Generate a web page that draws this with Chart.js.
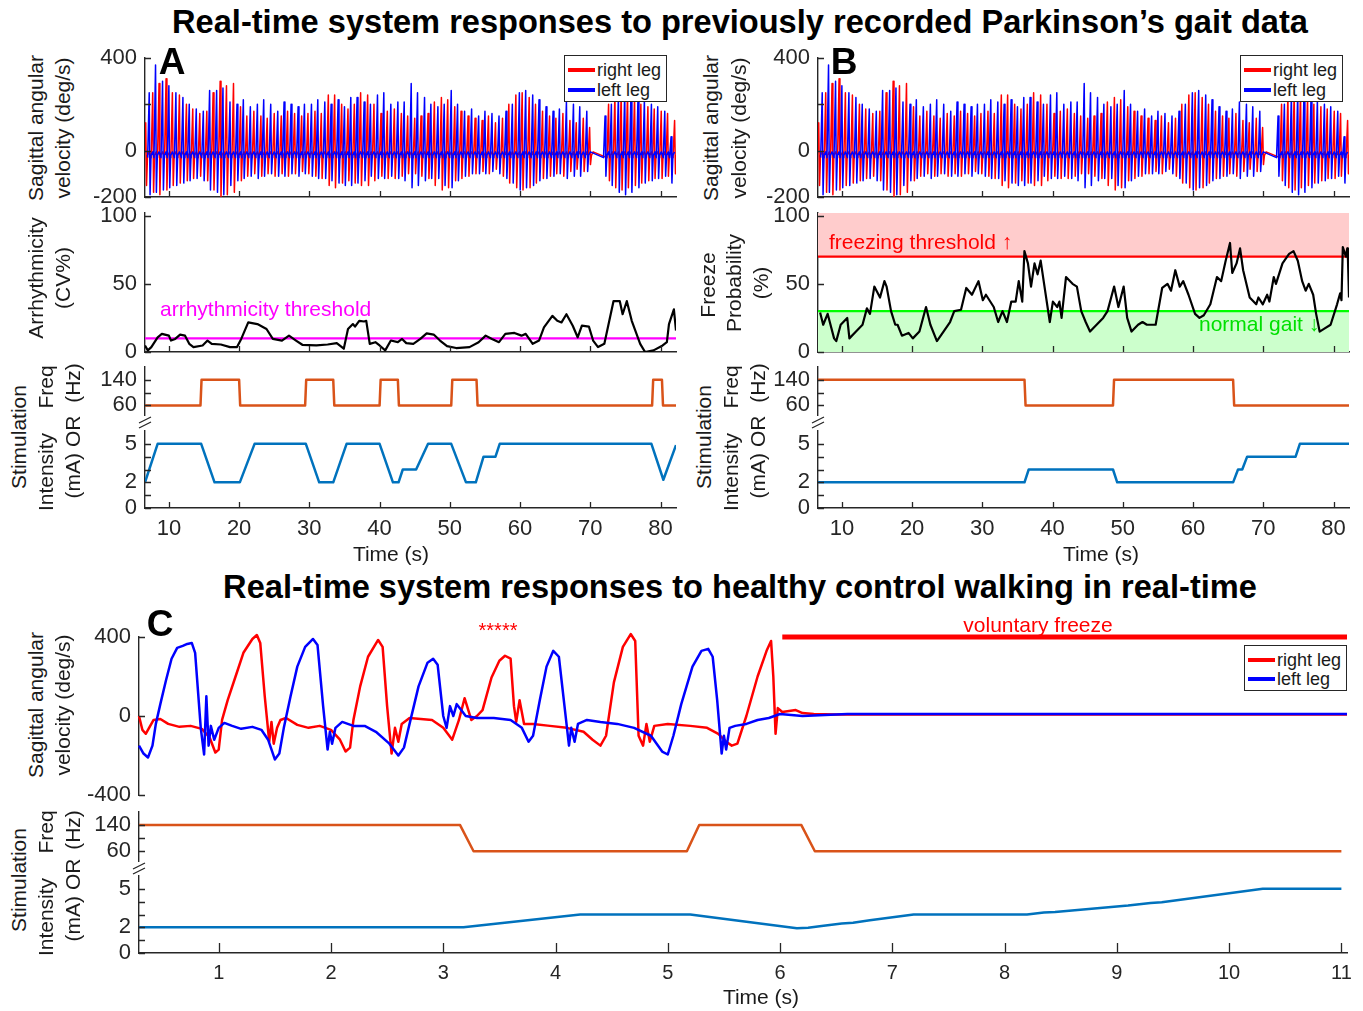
<!DOCTYPE html>
<html><head><meta charset="utf-8">
<script src="https://cdn.jsdelivr.net/npm/chart.js@4.4.1/dist/chart.umd.min.js"></script>
<style>
html,body{margin:0;padding:0;background:#fff;}
body{width:1363px;height:1011px;position:relative;overflow:hidden;font-family:"Liberation Sans",Arial,Helvetica,sans-serif;color:#1a1a1a;}
canvas{position:absolute;z-index:1;}
.tx{position:absolute;white-space:nowrap;line-height:1;transform:translate(-50%,-50%);font-size:21px;z-index:3;}
.rv{transform:translate(-50%,-50%) rotate(-90deg);}
.lt{position:absolute;white-space:nowrap;line-height:1;transform:translate(0,-50%);font-size:21px;z-index:3;}
.ttl{font-weight:bold;font-size:32.6px;color:#000;}
.pl{font-weight:bold;font-size:37px;color:#000;}
.leg{position:absolute;border:1px solid #262626;background:#fff;font-size:18px;line-height:1;box-sizing:border-box;z-index:4;}
.leg .row{position:absolute;left:3px;white-space:nowrap;display:flex;align-items:center;height:18px;}
.sw{display:inline-block;width:27px;height:4px;margin-right:2px;}
</style></head><body>

<div class="tx ttl" style="left:740px;top:22px">Real-time system responses to previously recorded Parkinson’s gait data</div>
<div class="tx ttl" style="left:740px;top:587px">Real-time system responses to healthy control walking in real-time</div>

<div class="tx pl" style="left:172px;top:61px">A</div>
<div class="tx pl" style="left:844px;top:61px">B</div>
<div class="tx pl" style="left:160px;top:623px">C</div>

<!-- Panel A labels -->
<div class="tx rv" style="left:35px;top:128px">Sagittal angular</div>
<div class="tx rv" style="left:62px;top:128px">velocity (deg/s)</div>
<div class="tx rv" style="left:35px;top:278px">Arrhythmicity</div>
<div class="tx rv" style="left:62px;top:278px">(CV%)</div>
<div class="tx rv" style="left:18px;top:437px">Stimulation</div>
<div class="tx rv" style="left:45px;top:387px">Freq</div>
<div class="tx rv" style="left:72px;top:383px">(Hz)</div>
<div class="tx rv" style="left:45px;top:472px">Intensity</div>
<div class="tx rv" style="left:72px;top:457px">(mA) OR</div>
<div class="tx" style="left:391px;top:553px">Time (s)</div>
<div class="lt" style="left:160px;top:308px;color:#ff00ff">arrhythmicity threshold</div>

<!-- Panel B labels -->
<div class="tx rv" style="left:710px;top:128px">Sagittal angular</div>
<div class="tx rv" style="left:738px;top:128px">velocity (deg/s)</div>
<div class="tx rv" style="left:707px;top:285px">Freeze</div>
<div class="tx rv" style="left:733px;top:283px">Probability</div>
<div class="tx rv" style="left:760px;top:283px">(%)</div>
<div class="tx rv" style="left:703px;top:437px">Stimulation</div>
<div class="tx rv" style="left:730px;top:387px">Freq</div>
<div class="tx rv" style="left:757px;top:383px">(Hz)</div>
<div class="tx rv" style="left:730px;top:472px">Intensity</div>
<div class="tx rv" style="left:757px;top:457px">(mA) OR</div>
<div class="tx" style="left:1101px;top:553px">Time (s)</div>
<div class="lt" style="left:829px;top:241px;color:#ff0000">freezing threshold ↑</div>
<div class="lt" style="left:1199px;top:323px;color:#00e000">normal gait ↓</div>

<!-- Panel C labels -->
<div class="tx rv" style="left:35px;top:705px">Sagittal angular</div>
<div class="tx rv" style="left:62px;top:705px">velocity (deg/s)</div>
<div class="tx rv" style="left:18px;top:880px">Stimulation</div>
<div class="tx rv" style="left:45px;top:832px">Freq</div>
<div class="tx rv" style="left:72px;top:830px">(Hz)</div>
<div class="tx rv" style="left:45px;top:917px">Intensity</div>
<div class="tx rv" style="left:72px;top:900px">(mA) OR</div>
<div class="tx" style="left:761px;top:996px">Time (s)</div>
<div class="tx" style="left:1038px;top:624px;color:#ff0000">voluntary freeze</div>
<div class="tx" style="left:498px;top:630px;color:#ff0000;font-size:20px">*****</div>

<!-- legends -->
<div class="leg" style="left:564px;top:55px;width:103px;height:47px">
  <div class="row" style="top:5px"><span class="sw" style="background:#ff0000"></span>right leg</div>
  <div class="row" style="top:25px"><span class="sw" style="background:#0000ff"></span>left leg</div>
</div>
<div class="leg" style="left:1240px;top:55px;width:103px;height:47px">
  <div class="row" style="top:5px"><span class="sw" style="background:#ff0000"></span>right leg</div>
  <div class="row" style="top:25px"><span class="sw" style="background:#0000ff"></span>left leg</div>
</div>
<div class="leg" style="left:1244px;top:645px;width:103px;height:46px">
  <div class="row" style="top:5px"><span class="sw" style="background:#ff0000"></span>right leg</div>
  <div class="row" style="top:24px"><span class="sw" style="background:#0000ff"></span>left leg</div>
</div>

<script>
// ================= DATA =================
// Panels A & B (same recorded gait): time axis
const xRangeAB = [6.6, 82.2];
const xTicksAB = [10, 20, 30, 40, 50, 60, 70, 80];

// Sagittal angular velocity, stride peaks (s, deg/s) — right leg
const rightT = [6.7,7.7,8.6,9.6,10.5,11.5,12.5,13.4,14.4,15.4,16.3,17.3,18.2,19.2,20.2,21.1,22.1,23.1,24.0,25.0,26.0,26.9,27.9,28.9,29.8,30.8,31.7,32.7,33.6,34.6,35.5,36.4,37.3,38.3,39.2,40.2,41.1,42.1,43.1,44.0,45.0,45.9,46.9,47.8,48.8,49.7,50.7,51.6,52.6,53.6,54.6,55.5,56.5,57.5,58.4,59.4,60.3,61.3,62.2,63.2,64.2,65.1,66.1,67.1,68.0,69.0,69.9,72.6,73.5,74.4,75.3,76.3,77.2,78.2,79.1,80.1,81.0,82.0];
const rightPeak = [120,250,290,310,250,240,200,180,160,170,250,300,280,290,190,150,170,150,140,160,150,170,160,150,160,170,160,240,240,200,180,200,250,240,200,160,170,180,160,150,140,150,160,210,230,220,190,170,150,140,130,150,120,140,200,240,250,230,200,170,150,140,160,130,120,140,100,200,240,250,250,230,200,190,180,170,160,130];
const rightTrough = [-150,-180,-190,-170,-150,-140,-130,-120,-110,-130,-170,-200,-190,-180,-130,-110,-100,-110,-100,-110,-100,-110,-100,-90,-100,-110,-120,-150,-160,-140,-130,-140,-150,-150,-130,-110,-120,-120,-110,-100,-100,-110,-120,-150,-170,-160,-130,-120,-110,-100,-90,-100,-80,-110,-140,-160,-170,-160,-140,-120,-110,-100,-110,-90,-80,-90,-60,-130,-160,-170,-160,-150,-140,-130,-120,-120,-110,-100];
// left leg
const leftT = [7.2,8.1,9.1,10.0,11.0,12.0,12.9,13.9,14.9,15.8,16.8,17.7,18.7,19.7,20.6,21.6,22.6,23.5,24.5,25.5,26.4,27.4,28.4,29.3,30.3,31.2,32.2,33.1,34.1,35.0,35.9,36.8,37.8,38.7,39.7,40.6,41.6,42.6,43.5,44.5,45.4,46.4,47.3,48.3,49.2,50.2,51.1,52.1,53.1,54.1,55.0,56.0,57.0,58.0,58.9,59.9,60.8,61.8,62.7,63.7,64.7,65.6,66.6,67.6,68.5,69.5,72.1,73.0,74.0,74.9,75.8,76.8,77.7,78.7,79.6,80.6,81.5];
const leftPeak = [250,370,300,280,250,230,200,180,170,260,260,270,210,200,220,190,200,220,200,170,210,200,190,200,200,220,210,200,220,190,230,230,210,200,240,250,200,210,210,290,250,230,200,190,200,260,200,170,180,150,170,160,150,170,200,250,260,240,220,190,170,180,210,200,190,170,150,200,240,250,260,240,220,200,190,170,60];
const leftTrough = [-190,-180,-170,-160,-150,-140,-130,-120,-130,-170,-180,-190,-150,-130,-120,-110,-120,-110,-100,-110,-110,-100,-110,-100,-110,-120,-120,-130,-140,-150,-150,-140,-130,-110,-120,-120,-110,-120,-130,-160,-150,-130,-120,-120,-150,-160,-130,-110,-100,-100,-100,-90,-100,-120,-140,-170,-160,-150,-130,-120,-110,-100,-120,-110,-110,-90,-110,-150,-180,-190,-180,-160,-140,-130,-120,-110,-140];
const velTicksAB = [-200, 0, 400], velMinorAB = [200];

// Panel A: arrhythmicity (CV%)
const arrT = [6.6,7.0,7.5,8.4,9.0,10.0,10.3,10.9,11.6,12.3,12.9,13.5,14.8,15.5,16.1,17.4,18.7,19.7,20.3,21.3,22.6,23.9,24.8,26.1,27.1,28.1,29.0,31.0,32.6,33.9,34.9,35.5,36.2,36.5,37.1,37.8,38.1,38.6,39.4,40.0,40.8,41.6,42.6,43.2,43.8,44.8,45.8,46.7,47.7,48.6,49.6,50.9,52.8,54.1,55.1,56.0,57.0,57.9,59.2,60.2,60.8,61.8,62.7,63.4,64.6,65.3,65.9,66.6,67.5,68.2,68.8,69.8,70.4,71.1,72.0,73.3,74.2,74.6,75.2,75.9,77.1,77.8,79.0,80.3,80.9,81.2,81.9,82.2];
const arrV = [4.8,1.2,3.6,10.8,13.3,12,8.4,9.6,12.8,12,6,3.6,4.8,8.4,6,5.5,3.6,3.6,9.6,21.7,20.5,16.9,9.6,8.4,12,8.4,5.3,4.8,5.5,6.5,2.4,16.9,20.5,18.6,22.9,22.4,22.9,6,7.2,4.8,1.2,8.4,7.2,9.6,6.5,6,9.6,13.7,12.8,8.4,4.3,2.9,3.6,7.2,12,9.6,7.2,13.3,14,12,13.3,6,8.4,18,26.5,22.9,21.7,27.7,19.3,10.8,19.3,18.6,8.4,3.6,6,37.3,37.3,27.7,37.3,22.9,6,0,1.2,4.8,7.2,20.5,31.3,15.7];
const arrThreshold = 10;
const pctTicks = [0, 50, 100];

// Panel B: freeze probability (%)
const frT = [6.9,7.34,7.97,8.89,9.2,9.83,10.76,11.07,12.01,12.94,13.56,14.0,14.62,15.43,16.06,16.37,17.0,17.6,17.93,18.55,19.49,20.1,21.04,21.98,22.6,23.53,24.47,25.4,26.0,26.96,27.71,28.52,29.45,30.07,30.51,31.62,32.25,32.87,33.5,34.12,34.74,35.18,35.68,35.99,36.49,36.93,37.43,37.86,38.3,38.79,39.6,40.04,40.66,40.97,41.28,41.91,42.84,43.46,44.08,44.71,45.33,46.26,47.2,47.82,48.76,49.37,50.12,50.62,51.24,52.17,52.8,53.42,54.67,55.6,56.36,56.86,57.47,58.1,58.6,59.35,60.28,60.91,61.53,62.46,63.4,64.0,64.64,65.26,65.58,66.19,66.69,67.13,68.06,68.99,69.3,69.93,70.55,70.87,71.49,71.8,72.73,73.67,74.3,74.91,75.53,76.03,76.47,77.1,77.52,78.02,78.64,79.58,80.5,80.94,81.13,81.32,81.76,81.95,82.05,82.2];
const frV = [29,20,28,10,8,20,25,10,15,20,32,28,48,40,52,48,30,20,20,12,14,10,15,33,20,8,15,22,30,31,47,42,52,38,42,33,22,30,22,37,37,52,37,74,65,48,65,57,67,50,22,37,33,37,25,55,50,48,30,22,15,20,25,30,48,33,48,25,15,20,22,20,20,47,50,45,60,48,52,42,28,25,27,35,55,52,67,80,58,65,76,60,40,35,40,35,42,37,55,50,65,72,74,67,52,45,50,42,28,15,17,20,35,43,38,77,70,76,68,40];
const freezeThreshold = 70, normalThreshold = 30;

// Panels A & B: stimulation frequency (Hz) and intensity (mA)
const freqATime = [6.6,14.5,14.65,20.0,20.15,29.4,29.55,33.4,33.55,40.0,40.15,42.6,42.75,50.2,50.35,53.8,53.95,78.8,78.95,80.2,80.35,82.2];
const freqAVal  = [60,60,140,140,60,60,140,140,60,60,140,140,60,60,140,140,60,60,140,140,60,60];
const intATime = [6.6,8.4,14.6,16.5,20.1,22.2,29.5,31.4,33.4,35.3,40.0,41.9,42.7,43.3,45.2,46.9,50.2,52.3,53.7,54.8,56.5,57.1,78.7,80.4,82.2];
const intAVal  = [2,5,5,2,2,5,5,2,2,5,5,2,2,3,3,5,5,2,2,4,4,5,5,2.2,4.9];
const freqBTime = [6.6,36.0,36.15,48.6,48.75,65.7,65.85,82.2];
const freqBVal  = [140,140,60,60,140,140,60,60];
const intBTime = [6.6,36.0,36.6,48.6,49.2,65.7,66.4,67.0,67.7,74.6,75.2,82.2];
const intBVal  = [2,2,3,3,2,2,3,3,4,4,5,5];
const freqTicks = [60, 140], freqMinor = [100];
const intTicks = [0, 2, 5], intMinor = [1, 3, 4];

// Panel C: healthy control
const xRangeC = [0.29, 11.05];
const xTicksC = [1,2,3,4,5,6,7,8,9,10,11];
const rightCT = [0.29,0.32,0.35,0.38,0.42,0.48,0.55,0.65,0.75,0.85,0.92,0.97,1.00,1.03,1.08,1.15,1.22,1.30,1.34,1.37,1.41,1.45,1.47,1.49,1.52,1.55,1.60,1.70,1.80,1.90,2.00,2.08,2.13,2.17,2.20,2.26,2.33,2.42,2.46,2.50,2.54,2.57,2.60,2.63,2.70,2.80,2.90,3.00,3.08,3.14,3.19,3.25,3.30,3.35,3.43,3.50,3.55,3.60,3.63,3.65,3.68,3.72,3.80,3.95,4.10,4.25,4.33,4.40,4.45,4.52,4.60,4.67,4.71,4.74,4.78,4.81,4.84,4.88,5.00,5.20,5.35,5.45,5.52,5.57,5.62,5.70,5.80,5.88,5.92,5.94,5.96,5.98,6.02,6.08,6.14,6.20,6.30,6.50,7.00,8.00,9.00,10.00,11.05];
const rightCV = [0,-70,-90,-60,-20,-15,-40,-55,-50,-65,-110,-185,-170,-20,80,200,320,390,410,370,100,-130,-30,-140,-60,-20,-10,-45,-60,-50,-70,-120,-180,-160,-20,150,300,385,350,50,-190,-60,-130,-40,-10,-15,-20,-60,-120,-20,90,-20,0,30,195,280,305,290,50,-30,80,-40,-40,-50,-60,-80,-120,-150,-100,170,350,415,380,-100,-150,-40,-130,-50,-40,-50,-60,-90,-130,-150,-140,0,200,330,380,200,-90,40,20,25,30,15,10,8,8,8,8,8,8];
const leftCT = [0.29,0.33,0.37,0.41,0.44,0.48,0.53,0.58,0.63,0.68,0.72,0.76,0.79,0.84,0.87,0.89,0.91,0.93,0.96,1.00,1.05,1.12,1.20,1.30,1.38,1.44,1.50,1.54,1.58,1.64,1.70,1.77,1.84,1.88,1.93,1.97,1.99,2.01,2.04,2.10,2.20,2.30,2.40,2.52,2.60,2.65,2.70,2.78,2.86,2.91,2.95,3.00,3.03,3.06,3.09,3.12,3.16,3.20,3.30,3.45,3.60,3.70,3.76,3.80,3.86,3.92,3.98,4.03,4.08,4.12,4.14,4.17,4.20,4.28,4.40,4.55,4.70,4.85,4.95,5.00,5.05,5.12,5.22,5.30,5.36,5.40,5.44,5.48,5.50,5.52,5.55,5.60,5.70,5.80,5.90,6.00,6.10,6.20,6.40,6.60,7.00,8.00,9.00,10.00,11.05];
const leftCV = [-150,-190,-210,-150,-40,60,180,290,345,355,365,370,320,-60,-195,100,-150,-50,-120,-60,-35,-50,-65,-55,-70,-120,-220,-190,-60,100,250,350,390,360,50,-170,-80,-140,-60,-30,-50,-50,-80,-140,-200,-160,-40,150,270,290,260,0,-60,50,0,60,30,0,-10,-10,-20,-60,-130,-100,80,250,330,300,50,-150,-60,-130,-40,-20,-30,-40,-60,-100,-180,-195,-100,60,250,330,340,300,80,-190,-100,-170,-60,-50,-40,-20,-10,10,5,0,5,10,10,10,10,10,10];
const velTicksC = [-400, 0, 400];
const freezeSpan = [6.02, 11.05], freezeLevel = 400;
const freqCTime = [0.29,3.15,3.27,5.17,5.28,6.19,6.31,11.0];
const freqCVal  = [140,140,60,60,140,140,60,60];
const intCTime = [0.29,3.18,4.22,5.2,6.15,6.25,6.37,6.55,6.65,6.8,7.19,8.2,8.35,8.45,9.1,9.3,9.4,10.3,11.0];
const intCVal  = [2,2,3,3,1.92,1.97,2.1,2.3,2.35,2.55,3,3,3.15,3.2,3.7,3.9,3.95,5,5];

// ================= RENDERING =================
Chart.defaults.font.family = '"Liberation Sans", Arial, Helvetica, sans-serif';
Chart.defaults.font.size = 22;
Chart.defaults.color = '#262626';

const AX = '#262626';
const pts = (ts, vs) => ts.map((t, i) => ({x: t, y: vs[i]}));
function gait(ts, peaks, troughs) {
  const out = [];
  ts.forEach((t, i) => {
    out.push({x: t - 0.22, y: -30}, {x: t, y: peaks[i]}, {x: t + 0.12, y: troughs[i]}, {x: t + 0.26, y: -20}, {x: t + 0.5, y: -5});
  });
  return out;
}

const inTicks = {
  id: 'inTicks',
  afterDraw(chart, args, o) {
    const {ctx, chartArea: a, scales: {x, y}} = chart;
    ctx.save();
    ctx.strokeStyle = AX; ctx.lineWidth = 1.3;
    ctx.beginPath();
    (o.y || []).forEach(v => { const p = Math.round(y.getPixelForValue(v)) + 0.5; ctx.moveTo(a.left, p); ctx.lineTo(a.left + (o.yl || 6), p); });
    (o.x || []).forEach(v => { const p = Math.round(x.getPixelForValue(v)) + 0.5; ctx.moveTo(p, a.bottom); ctx.lineTo(p, a.bottom - (o.xl || 6)); });
    ctx.stroke();
    if (o.brk) {
      const bx = a.left, by = a.bottom + o.brk;
      ctx.beginPath();
      ctx.moveTo(bx - 6, by); ctx.lineTo(bx + 6, by - 6);
      ctx.moveTo(bx - 6, by + 5); ctx.lineTo(bx + 6, by - 1);
      ctx.stroke();
    }
    ctx.restore();
  }
};

function makeChart(o) {
  const YW = 70, PT = o.pt ?? 14, PR = o.pr ?? 12, PB = o.pb ?? 14, XH = o.xh ?? 0;
  const W = o.r - o.l + YW + PR, H = o.b - o.t + PT + XH + PB;
  const cv = document.createElement('canvas');
  cv.width = W; cv.height = H;
  cv.style.left = (o.l - YW) + 'px'; cv.style.top = (o.t - PT) + 'px';
  cv.style.width = W + 'px'; cv.style.height = H + 'px';
  document.body.appendChild(cv);
  return new Chart(cv, {
    type: 'line',
    data: {datasets: o.datasets},
    options: {
      responsive: false, animation: false, devicePixelRatio: 1,
      layout: {padding: {top: PT, right: PR, bottom: PB, left: 0}},
      elements: {point: {radius: 0}, line: {tension: 0, borderJoinStyle: 'round'}},
      plugins: {legend: {display: false}, tooltip: {enabled: false},
        inTicks: {x: o.xMarks || [], y: (o.yTicks || []).concat(o.yMinor || []), brk: o.brk || 0, xl: o.xl || 6, yl: o.yl || 6}},
      scales: {
        x: {type: 'linear', min: o.xr[0], max: o.xr[1], position: 'bottom',
          grid: {display: false},
          border: {display: !!o.xAxis, color: AX, width: 1.4},
          ticks: {display: !!o.xLabels, padding: 0, maxRotation: 0, autoSkip: false, color: AX, font: {size: o.xfs || 22}},
          afterBuildTicks: s => { s.ticks = (o.xLabelTicks || []).map(v => ({value: v})); },
          afterFit: s => { s.height = XH; s.paddingLeft = 0; s.paddingRight = 0; s.paddingTop = 0; s.paddingBottom = 0; }
        },
        y: {type: 'linear', min: o.yr[0], max: o.yr[1], position: 'left',
          grid: {display: false},
          border: {display: true, color: AX, width: 1.4},
          ticks: {padding: 0, color: AX, font: {size: 22}},
          afterBuildTicks: s => { s.ticks = (o.yTicks || []).map(v => ({value: v})); },
          afterFit: s => { s.width = YW; s.paddingLeft = 0; s.paddingRight = 0; s.paddingTop = 0; s.paddingBottom = 0; }
        }
      }
    },
    plugins: [inTicks]
  });
}

const RED = '#ff0000', BLUE = '#0000ff', ORANGE = '#d95319', SKY = '#0072bd';

function velDatasets(w) {
  return [
    {data: gait(rightT, rightPeak, rightTrough), borderColor: RED, borderWidth: w, order: 1},
    {data: gait(leftT, leftPeak, leftTrough), borderColor: BLUE, borderWidth: w, order: 0}
  ];
}

// ----- Panel A -----
makeChart({l: 145, r: 676, t: 58, b: 197, xr: xRangeAB, yr: [-200, 400], yTicks: velTicksAB, yMinor: velMinorAB,
  xAxis: true, xMarks: xTicksAB, datasets: velDatasets(1.5)});
makeChart({l: 145, r: 676, t: 213, b: 352, xr: xRangeAB, yr: [0, 102], yTicks: pctTicks, xAxis: true, xMarks: xTicksAB,
  datasets: [
    {data: pts(xRangeAB, [arrThreshold, arrThreshold]), borderColor: '#ff00ff', borderWidth: 2.2, order: 1},
    {data: pts(arrT, arrV), borderColor: '#000', borderWidth: 2.2, order: 0}
  ]});
makeChart({l: 145, r: 676, t: 367, b: 415, pb: 18, xr: xRangeAB, yr: [30, 180], yTicks: freqTicks, yMinor: freqMinor, brk: 8,
  datasets: [{data: pts(freqATime, freqAVal), borderColor: ORANGE, borderWidth: 2.5}]});
makeChart({l: 145, r: 676, t: 431, b: 508, xh: 32, xr: xRangeAB, yr: [0, 6], yTicks: intTicks, yMinor: intMinor,
  xAxis: true, xLabels: true, xLabelTicks: xTicksAB, xMarks: xTicksAB,
  datasets: [{data: pts(intATime, intAVal), borderColor: SKY, borderWidth: 2.5}]});

// ----- Panel B -----
makeChart({l: 818, r: 1349, t: 58, b: 197, xr: xRangeAB, yr: [-200, 400], yTicks: velTicksAB, yMinor: velMinorAB,
  xAxis: true, xMarks: xTicksAB, datasets: velDatasets(1.5)});
makeChart({l: 818, r: 1349, t: 213, b: 352, xr: xRangeAB, yr: [0, 102], yTicks: pctTicks, xAxis: true, xMarks: xTicksAB,
  datasets: [
    {data: pts(xRangeAB, [normalThreshold, normalThreshold]), borderColor: '#00ff00', borderWidth: 2.2, fill: 'origin', backgroundColor: '#ccffcc', order: 2},
    {data: pts(xRangeAB, [freezeThreshold, freezeThreshold]), borderColor: '#ff0000', borderWidth: 2.2, fill: 'end', backgroundColor: '#ffcccc', order: 1},
    {data: pts(frT, frV), borderColor: '#000', borderWidth: 2.2, order: 0}
  ]});
makeChart({l: 818, r: 1349, t: 367, b: 415, pb: 18, xr: xRangeAB, yr: [30, 180], yTicks: freqTicks, yMinor: freqMinor, brk: 8,
  datasets: [{data: pts(freqBTime, freqBVal), borderColor: ORANGE, borderWidth: 2.5}]});
makeChart({l: 818, r: 1349, t: 431, b: 508, xh: 32, xr: xRangeAB, yr: [0, 6], yTicks: intTicks, yMinor: intMinor,
  xAxis: true, xLabels: true, xLabelTicks: xTicksAB, xMarks: xTicksAB,
  datasets: [{data: pts(intBTime, intBVal), borderColor: SKY, borderWidth: 2.5}]});

// ----- Panel C -----
makeChart({l: 139, r: 1347, t: 637, b: 795, pt: 16, xr: xRangeC, yr: [-400, 400], yTicks: velTicksC,
  datasets: [
    {data: pts(freezeSpan, [freezeLevel, freezeLevel]), borderColor: RED, borderWidth: 5, clip: false, order: 2},
    {data: pts(rightCT, rightCV), borderColor: RED, borderWidth: 2.5, clip: 10, order: 1},
    {data: pts(leftCT, leftCV), borderColor: BLUE, borderWidth: 2.5, clip: 10, order: 0}
  ]});
makeChart({l: 139, r: 1347, t: 812, b: 861, pb: 18, xr: xRangeC, yr: [30, 180], yTicks: freqTicks, yMinor: freqMinor, brk: 8,
  datasets: [{data: pts(freqCTime, freqCVal), borderColor: ORANGE, borderWidth: 2.5}]});
makeChart({l: 139, r: 1347, t: 876, b: 953, xh: 32, xr: xRangeC, yr: [0, 6], yTicks: intTicks, yMinor: intMinor,
  xAxis: true, xLabels: true, xLabelTicks: xTicksC, xMarks: xTicksC, xl: 10, xfs: 20,
  datasets: [{data: pts(intCTime, intCVal), borderColor: SKY, borderWidth: 2.5}]});
</script>
</body></html>
